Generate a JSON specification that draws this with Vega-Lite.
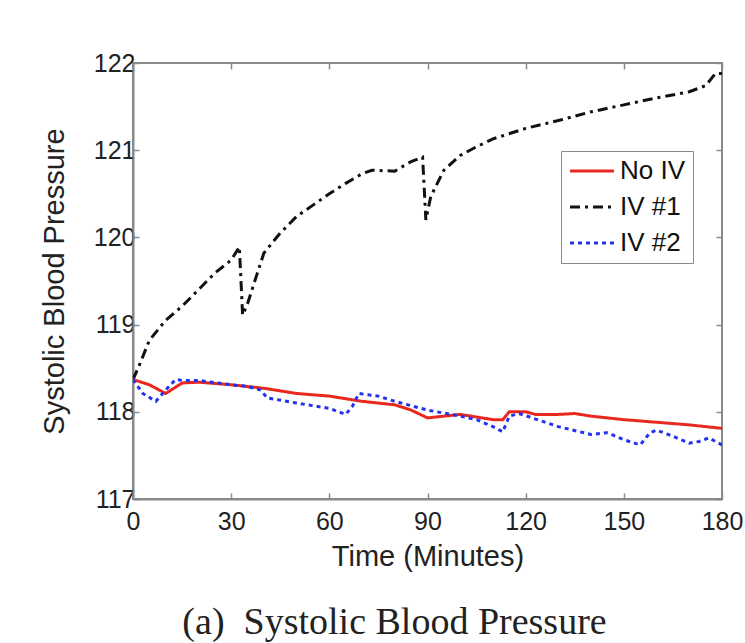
{
  "$schema": "https://vega.github.io/schema/vega-lite/v6.json",
  "autosize": "none",
  "width": 589,
  "height": 436,
  "padding": {"left": 133, "top": 63, "right": 23, "bottom": 144},
  "background": "white",
  "config": {
    "view": {"stroke": "#8a8a8a", "strokeWidth": 2},
    "font": "Liberation Sans"
  },
  "title": {
    "text": "(a)\u00a0\u00a0Systolic Blood Pressure",
    "orient": "bottom",
    "anchor": "middle",
    "font": "Liberation Serif",
    "fontSize": 38,
    "fontWeight": "normal",
    "color": "#222",
    "offset": 33,
    "dx": -33
  },
  "data": {
    "values": [
      {"t": 0, "v": 118.37, "s": "IV #1"},
      {"t": 2, "v": 118.54, "s": "IV #1"},
      {"t": 5, "v": 118.82, "s": "IV #1"},
      {"t": 10, "v": 119.05, "s": "IV #1"},
      {"t": 15, "v": 119.21, "s": "IV #1"},
      {"t": 20, "v": 119.40, "s": "IV #1"},
      {"t": 25, "v": 119.59, "s": "IV #1"},
      {"t": 30, "v": 119.74, "s": "IV #1"},
      {"t": 32.5, "v": 119.89, "s": "IV #1"},
      {"t": 33.5, "v": 119.11, "s": "IV #1"},
      {"t": 35, "v": 119.24, "s": "IV #1"},
      {"t": 38, "v": 119.59, "s": "IV #1"},
      {"t": 40, "v": 119.82, "s": "IV #1"},
      {"t": 45, "v": 120.05, "s": "IV #1"},
      {"t": 50, "v": 120.24, "s": "IV #1"},
      {"t": 55, "v": 120.37, "s": "IV #1"},
      {"t": 60, "v": 120.50, "s": "IV #1"},
      {"t": 65, "v": 120.62, "s": "IV #1"},
      {"t": 70, "v": 120.73, "s": "IV #1"},
      {"t": 73, "v": 120.77, "s": "IV #1"},
      {"t": 80, "v": 120.76, "s": "IV #1"},
      {"t": 85, "v": 120.87, "s": "IV #1"},
      {"t": 88.5, "v": 120.92, "s": "IV #1"},
      {"t": 89.5, "v": 120.20, "s": "IV #1"},
      {"t": 91, "v": 120.47, "s": "IV #1"},
      {"t": 95, "v": 120.77, "s": "IV #1"},
      {"t": 100, "v": 120.94, "s": "IV #1"},
      {"t": 105, "v": 121.04, "s": "IV #1"},
      {"t": 110, "v": 121.13, "s": "IV #1"},
      {"t": 120, "v": 121.25, "s": "IV #1"},
      {"t": 130, "v": 121.34, "s": "IV #1"},
      {"t": 140, "v": 121.44, "s": "IV #1"},
      {"t": 150, "v": 121.52, "s": "IV #1"},
      {"t": 160, "v": 121.60, "s": "IV #1"},
      {"t": 170, "v": 121.67, "s": "IV #1"},
      {"t": 175, "v": 121.74, "s": "IV #1"},
      {"t": 178, "v": 121.88, "s": "IV #1"},
      {"t": 180, "v": 121.88, "s": "IV #1"},

      {"t": 0, "v": 118.37, "s": "No IV"},
      {"t": 5, "v": 118.31, "s": "No IV"},
      {"t": 10, "v": 118.21, "s": "No IV"},
      {"t": 15, "v": 118.33, "s": "No IV"},
      {"t": 20, "v": 118.34, "s": "No IV"},
      {"t": 30, "v": 118.31, "s": "No IV"},
      {"t": 40, "v": 118.27, "s": "No IV"},
      {"t": 50, "v": 118.21, "s": "No IV"},
      {"t": 60, "v": 118.18, "s": "No IV"},
      {"t": 70, "v": 118.12, "s": "No IV"},
      {"t": 80, "v": 118.08, "s": "No IV"},
      {"t": 85, "v": 118.02, "s": "No IV"},
      {"t": 90, "v": 117.93, "s": "No IV"},
      {"t": 95, "v": 117.95, "s": "No IV"},
      {"t": 100, "v": 117.97, "s": "No IV"},
      {"t": 110, "v": 117.91, "s": "No IV"},
      {"t": 113, "v": 117.91, "s": "No IV"},
      {"t": 115, "v": 118.00, "s": "No IV"},
      {"t": 120, "v": 118.00, "s": "No IV"},
      {"t": 123, "v": 117.97, "s": "No IV"},
      {"t": 130, "v": 117.97, "s": "No IV"},
      {"t": 135, "v": 117.98, "s": "No IV"},
      {"t": 140, "v": 117.95, "s": "No IV"},
      {"t": 150, "v": 117.91, "s": "No IV"},
      {"t": 160, "v": 117.88, "s": "No IV"},
      {"t": 170, "v": 117.85, "s": "No IV"},
      {"t": 180, "v": 117.81, "s": "No IV"},

      {"t": 0, "v": 118.37, "s": "IV #2"},
      {"t": 3, "v": 118.21, "s": "IV #2"},
      {"t": 7, "v": 118.12, "s": "IV #2"},
      {"t": 10, "v": 118.25, "s": "IV #2"},
      {"t": 13, "v": 118.37, "s": "IV #2"},
      {"t": 15, "v": 118.36, "s": "IV #2"},
      {"t": 20, "v": 118.36, "s": "IV #2"},
      {"t": 30, "v": 118.31, "s": "IV #2"},
      {"t": 35, "v": 118.29, "s": "IV #2"},
      {"t": 39, "v": 118.25, "s": "IV #2"},
      {"t": 41, "v": 118.16, "s": "IV #2"},
      {"t": 50, "v": 118.10, "s": "IV #2"},
      {"t": 60, "v": 118.04, "s": "IV #2"},
      {"t": 65, "v": 117.97, "s": "IV #2"},
      {"t": 67, "v": 118.06, "s": "IV #2"},
      {"t": 69, "v": 118.21, "s": "IV #2"},
      {"t": 75, "v": 118.18, "s": "IV #2"},
      {"t": 80, "v": 118.12, "s": "IV #2"},
      {"t": 90, "v": 118.02, "s": "IV #2"},
      {"t": 100, "v": 117.95, "s": "IV #2"},
      {"t": 105, "v": 117.91, "s": "IV #2"},
      {"t": 110, "v": 117.83, "s": "IV #2"},
      {"t": 113, "v": 117.77, "s": "IV #2"},
      {"t": 115, "v": 117.95, "s": "IV #2"},
      {"t": 118, "v": 117.98, "s": "IV #2"},
      {"t": 122, "v": 117.93, "s": "IV #2"},
      {"t": 130, "v": 117.83, "s": "IV #2"},
      {"t": 140, "v": 117.74, "s": "IV #2"},
      {"t": 145, "v": 117.76, "s": "IV #2"},
      {"t": 150, "v": 117.68, "s": "IV #2"},
      {"t": 155, "v": 117.62, "s": "IV #2"},
      {"t": 158, "v": 117.76, "s": "IV #2"},
      {"t": 160, "v": 117.79, "s": "IV #2"},
      {"t": 165, "v": 117.72, "s": "IV #2"},
      {"t": 170, "v": 117.64, "s": "IV #2"},
      {"t": 173, "v": 117.66, "s": "IV #2"},
      {"t": 176, "v": 117.70, "s": "IV #2"},
      {"t": 180, "v": 117.62, "s": "IV #2"}
    ]
  },
  "layer": [
    {
      "mark": {"type": "line", "strokeWidth": 3, "clip": true},
      "encoding": {
        "x": {
          "field": "t", "type": "quantitative",
          "scale": {"domain": [0, 180], "nice": false},
          "axis": {
            "values": [0, 30, 60, 90, 120, 150, 180],
            "title": "Time (Minutes)",
            "titleFont": "Liberation Sans", "titleFontSize": 29, "titleFontWeight": "normal", "titleColor": "#222",
            "titlePadding": 8,
            "labelFont": "Liberation Sans", "labelFontSize": 25, "labelColor": "#222",
            "labelPadding": 16,
            "domainColor": "#8a8a8a", "domainWidth": 2,
            "tickColor": "#8a8a8a", "tickSize": -6, "tickWidth": 1.5,
            "grid": false, "labelFlush": false
          }
        },
        "y": {
          "field": "v", "type": "quantitative",
          "scale": {"domain": [117, 122], "nice": false, "zero": false},
          "axis": {
            "values": [117, 118, 119, 120, 121, 122],
            "title": "Systolic Blood Pressure",
            "titleFont": "Liberation Sans", "titleFontSize": 29, "titleFontWeight": "normal", "titleColor": "#222",
            "titlePadding": 24,
            "labelFont": "Liberation Sans", "labelFontSize": 25, "labelColor": "#222",
            "labelPadding": 4,
            "domainColor": "#8a8a8a", "domainWidth": 2,
            "tickColor": "#8a8a8a", "tickSize": -6, "tickWidth": 1.5,
            "grid": false, "labelFlush": false
          }
        },
        "color": {
          "field": "s", "type": "nominal",
          "scale": {"domain": ["No IV", "IV #1", "IV #2"], "range": ["#e8281e", "#111111", "#2233ee"]},
          "legend": {
            "title": null,
            "orient": "none", "legendX": 428, "legendY": 88,
            "fillColor": "white", "strokeColor": "#8a8a8a",
            "padding": 7,
            "symbolType": "M-1,0H3", "symbolSize": 484, "symbolStrokeWidth": 3,
            "labelFont": "Liberation Sans", "labelFontSize": 26, "labelColor": "#111",
            "labelOffset": 26, "rowPadding": 10
          }
        },
        "strokeDash": {
          "field": "s", "type": "nominal",
          "scale": {"domain": ["No IV", "IV #1", "IV #2"], "range": [[1, 0], [10, 5, 3, 5], [4, 4]]},
          "legend": {
            "title": null,
            "orient": "none", "legendX": 428, "legendY": 88,
            "fillColor": "white", "strokeColor": "#8a8a8a",
            "padding": 7,
            "symbolType": "M-1,0H3", "symbolSize": 484, "symbolStrokeWidth": 3,
            "labelFont": "Liberation Sans", "labelFontSize": 26, "labelColor": "#111",
            "labelOffset": 26, "rowPadding": 10
          }
        },
        "order": {"field": "t", "type": "quantitative"}
      }
    },
    {
      "mark": {"type": "line", "opacity": 0},
      "encoding": {
        "x": {
          "field": "t", "type": "quantitative",
          "axis": {"orient": "top", "values": [0, 30, 60, 90, 120, 150, 180], "labels": false, "title": null, "domain": false, "grid": false, "tickColor": "#8a8a8a", "tickSize": -6, "tickWidth": 1.5}
        },
        "y": {
          "field": "v", "type": "quantitative",
          "axis": {"orient": "right", "values": [117, 118, 119, 120, 121, 122], "labels": false, "title": null, "domain": false, "grid": false, "tickColor": "#8a8a8a", "tickSize": -6, "tickWidth": 1.5}
        },
        "detail": {"field": "s", "type": "nominal"}
      }
    }
  ],
  "resolve": {"axis": {"x": "independent", "y": "independent"}}
}
